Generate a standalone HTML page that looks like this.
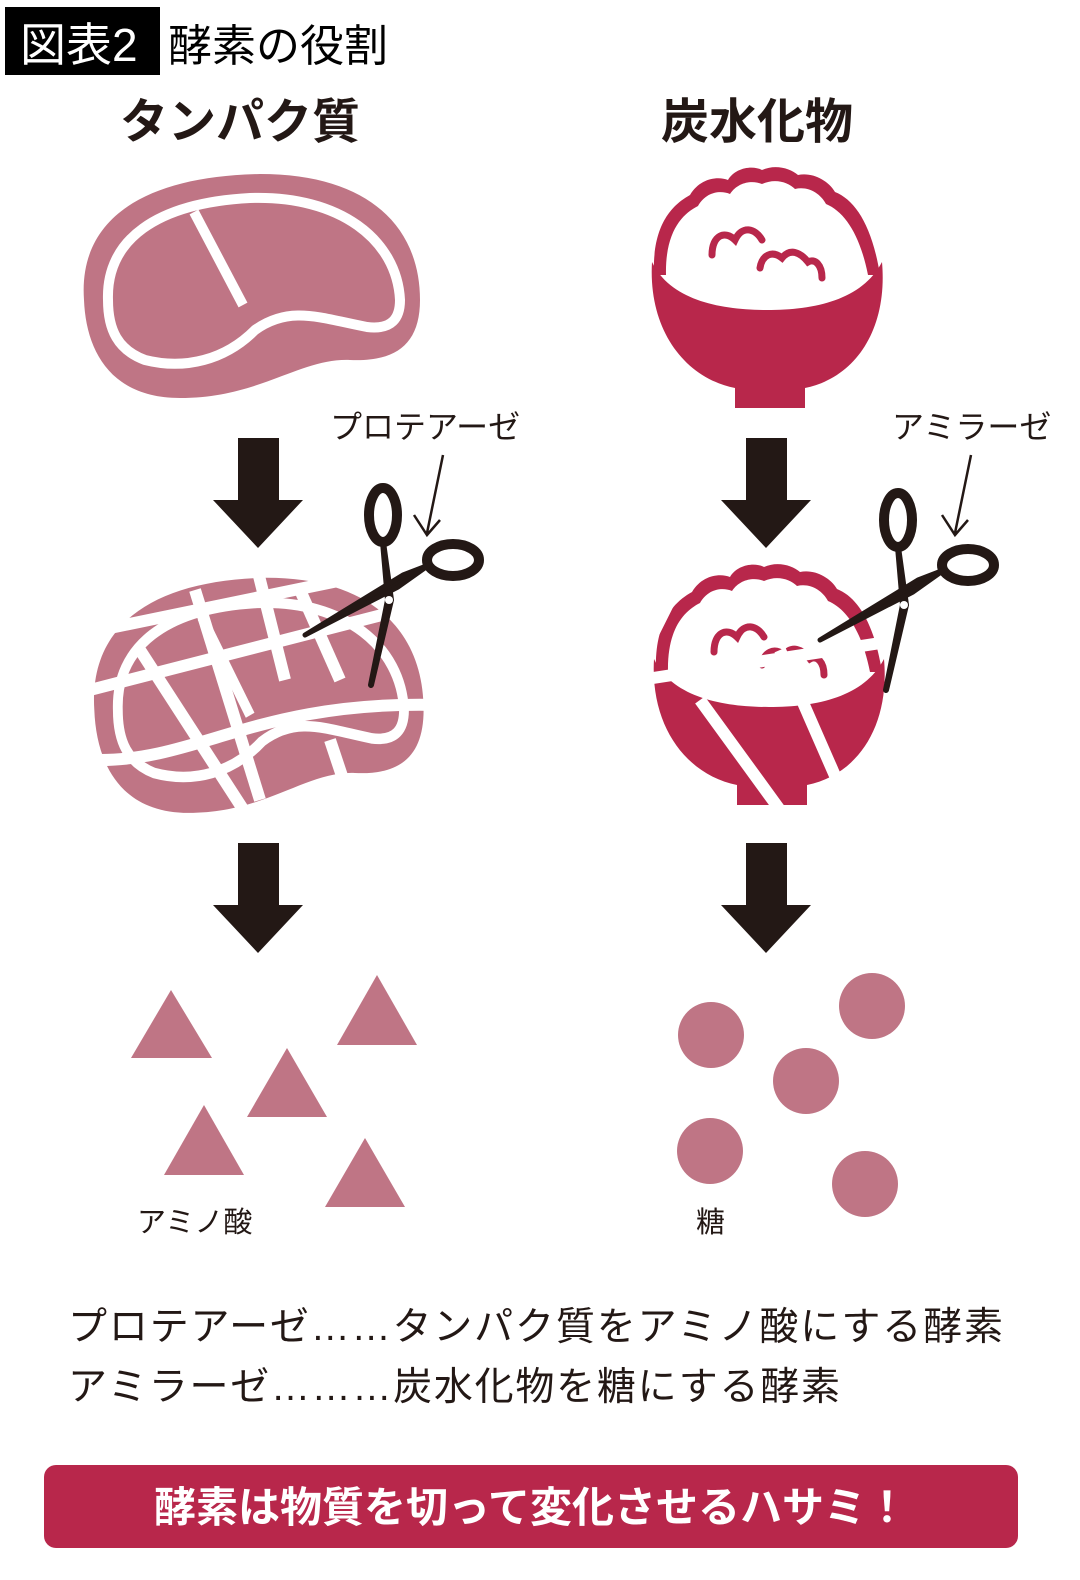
<!DOCTYPE html>
<html><head><meta charset="utf-8"><style>
html,body{margin:0;padding:0;background:#fff;}
body{width:1080px;height:1580px;position:relative;overflow:hidden;font-family:"Liberation Sans","Noto Sans CJK JP",sans-serif;}
svg{position:absolute;left:0;top:0;}
</style></head><body>
<svg width="1080" height="1580" viewBox="0 0 1080 1580" xmlns="http://www.w3.org/2000/svg" font-family="Liberation Sans, Noto Sans CJK JP, sans-serif">
<defs>
<g id="steak">
  <path d="M84,300 C78,215 150,176 260,174 C370,174 420,228 420,300 C420,345 395,362 350,360 C300,358 260,398 180,398 C110,398 86,350 84,300 Z" fill="#bf7585"/>
  <path d="M108,300 C106,240 156,203 250,198 C340,195 397,240 400,300 C400,318 392,330 367,327 C320,318 290,305 255,330 C225,360 185,370 145,360 C118,350 108,330 108,300 Z" fill="none" stroke="#fff" stroke-width="10"/>
  <path d="M194,212 L243,305" stroke="#fff" stroke-width="10"/>
</g>
<g id="bowl">
  <path d="M654,275 C652,225 672,205 690,195 C700,178 718,176 728,180 C735,168 752,165 762,170 C775,164 790,168 798,175 C812,172 828,180 835,192 C855,200 872,225 880,275 Z" fill="#b8274b"/>
  <path d="M666,275 C665,232 682,214 698,206 C706,192 720,190 730,194 C738,182 752,180 762,184 C775,178 788,182 795,189 C808,186 820,193 826,204 C845,212 860,235 868,275 Z" fill="#fff"/>
  <path d="M652,262 C670,300 720,310 767,310 C815,310 862,300 882,262 C888,330 855,378 805,388 L805,408 L735,408 L735,388 C685,378 648,330 652,262 Z" fill="#b8274b"/>
  <path d="M712,255 C712,235 725,230 735,240 C742,225 755,228 762,240" fill="none" stroke="#b8274b" stroke-width="7" stroke-linecap="round"/>
  <path d="M760,268 C762,255 772,250 782,258 C790,248 800,252 808,262 C815,258 822,265 822,278" fill="none" stroke="#b8274b" stroke-width="7" stroke-linecap="round"/>
</g>
<g id="bigarrow">
  <rect x="-20" y="0" width="41" height="62" fill="#231815"/>
  <polygon points="-45,62 45,62 0,110" fill="#231815"/>
</g>
<g id="scissors">
  <ellipse cx="0" cy="0" rx="14" ry="27" fill="none" stroke="#231815" stroke-width="10"/>
  <path d="M0,27 L5,85 L-12,170 L8,85 Z" fill="#231815" stroke="#231815" stroke-width="6" stroke-linejoin="round"/>
  <ellipse cx="70" cy="45" rx="26" ry="16" fill="none" stroke="#231815" stroke-width="10"/>
  <path d="M46,50 L20,60 L-78,120 L15,72 Z" fill="#231815" stroke="#231815" stroke-width="5" stroke-linejoin="round"/>
  <circle cx="6" cy="85" r="4" fill="#fff"/>
</g>
</defs>

<rect x="5" y="7" width="155" height="68" fill="#000"/>
<text x="20" y="61" font-size="46" fill="#fff">図表2</text>
<text x="168" y="61" font-size="44" fill="#000">酵素の役割</text>

<text x="240" y="138" font-size="48" font-weight="bold" fill="#231815" text-anchor="middle">タンパク質</text>
<text x="757" y="138" font-size="48" font-weight="bold" fill="#231815" text-anchor="middle">炭水化物</text>

<use href="#steak"/>
<use href="#bowl"/>

<use href="#bigarrow" x="258" y="438"/>
<use href="#bigarrow" x="766" y="438"/>
<use href="#bigarrow" x="258" y="843"/>
<use href="#bigarrow" x="766" y="843"/>

<text x="330" y="438" font-size="32" fill="#231815">プロテアーゼ</text>
<text x="892" y="438" font-size="32" fill="#231815">アミラーゼ</text>
<path d="M443,455 L427,533 M414,515 L427,535 L440,520" fill="none" stroke="#231815" stroke-width="2.5"/>
<path d="M971,455 L955,533 M942,515 L955,535 L968,520" fill="none" stroke="#231815" stroke-width="2.5"/>

<!-- cut steak -->
<g transform="translate(12,395) scale(0.98,1.05)">
  <use href="#steak"/>
</g>
<g stroke="#fff" stroke-width="12" fill="none">
  <path d="M90,690 L440,600"/>
  <path d="M100,630 L440,560"/>
  <path d="M100,760 C200,760 260,700 440,705"/>
  <path d="M255,560 L285,680"/>
  <path d="M195,590 L260,800"/>
  <path d="M140,650 L250,820"/>
  <path d="M300,590 L340,680"/>
  <path d="M330,740 L350,800"/>
</g>
<use href="#scissors" x="383" y="515"/>

<!-- cut bowl -->
<g transform="translate(2,397)"><use href="#bowl"/></g>
<g stroke="#fff" stroke-width="12" fill="none">
  <path d="M640,680 L900,640"/>
  <path d="M700,700 L780,810"/>
  <path d="M780,650 L850,810"/>
  <path d="M690,560 L650,640"/>
</g>
<use href="#scissors" x="898" y="520"/>

<!-- amino acids -->
<g fill="#bf7585">
  <polygon points="171,990 131,1058 212,1058"/>
  <polygon points="377,975 337,1045 417,1045"/>
  <polygon points="287,1048 247,1117 327,1117"/>
  <polygon points="204,1105 164,1175 244,1175"/>
  <polygon points="365,1138 325,1207 405,1207"/>
  <circle cx="711" cy="1035" r="33"/>
  <circle cx="872" cy="1006" r="33"/>
  <circle cx="806" cy="1081" r="33"/>
  <circle cx="710" cy="1151" r="33"/>
  <circle cx="865" cy="1184" r="33"/>
</g>
<text x="137" y="1232" font-size="29" fill="#231815">アミノ酸</text>
<text x="696" y="1232" font-size="29" fill="#231815">糖</text>

<text x="68" y="1340" font-size="39" fill="#231815" textLength="935">プロテアーゼ……タンパク質をアミノ酸にする酵素</text>
<text x="68" y="1400" font-size="39" fill="#231815" textLength="772">アミラーゼ………炭水化物を糖にする酵素</text>

<rect x="44" y="1465" width="974" height="83" rx="12" fill="#b8274b"/>
<text x="531" y="1522" font-size="42" font-weight="bold" fill="#fff" text-anchor="middle">酵素は物質を切って変化させるハサミ！</text>
</svg>
</body></html>
